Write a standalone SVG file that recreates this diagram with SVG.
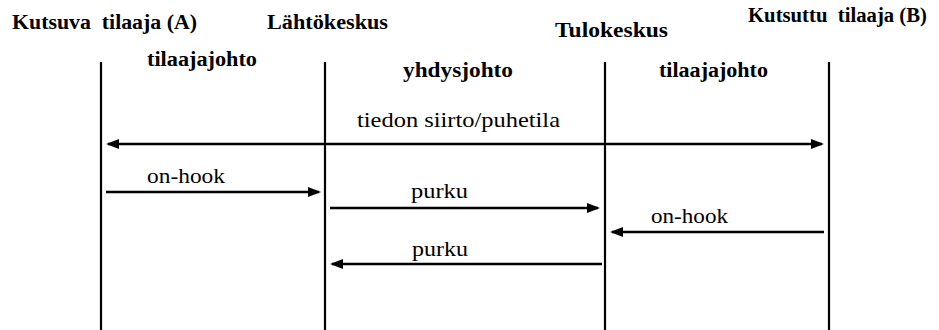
<svg xmlns="http://www.w3.org/2000/svg" width="939" height="330" viewBox="0 0 939 330">
<style>
.b{font-weight:bold;font-size:20px;fill:#000}
.r{font-size:21px;fill:#000}
.v{stroke:#000;stroke-width:2.2;fill:none}
.a{stroke:#000;stroke-width:2.5;fill:none}
</style>
<defs>
<marker id="ah" markerUnits="userSpaceOnUse" markerWidth="14" markerHeight="12" viewBox="0 0 14 12" refX="11" refY="6" orient="auto-start-reverse">
<path d="M0,1 L13,6 L0,11 z" fill="#000"/>
</marker>
</defs>
<rect width="939" height="330" fill="#fff"/>
<g id="titles" font-family="Liberation Serif, DejaVu Serif, serif">
<text class="b" x="12" y="29" textLength="185" lengthAdjust="spacingAndGlyphs" xml:space="preserve">Kutsuva  tilaaja (A)</text>
<text class="b" x="267" y="29" textLength="121" lengthAdjust="spacingAndGlyphs">Lähtökeskus</text>
<text class="b" x="555" y="37" textLength="113" lengthAdjust="spacingAndGlyphs">Tulokeskus</text>
<text class="b" x="748" y="22" textLength="179" lengthAdjust="spacingAndGlyphs" xml:space="preserve">Kutsuttu  tilaaja (B)</text>
</g>
<g id="segments" font-family="Liberation Serif, DejaVu Serif, serif">
<text class="b" x="147" y="66" textLength="110" lengthAdjust="spacingAndGlyphs">tilaajajohto</text>
<text class="b" x="403" y="77" textLength="110" lengthAdjust="spacingAndGlyphs">yhdysjohto</text>
<text class="b" x="659" y="77" textLength="109" lengthAdjust="spacingAndGlyphs">tilaajajohto</text>
</g>
<g id="lifelines">
<line id="lineA" class="v" x1="101" y1="62" x2="101" y2="330"/>
<line id="lineL" class="v" x1="325" y1="62" x2="325" y2="330"/>
<line id="lineT" class="v" x1="605" y1="62" x2="605" y2="330"/>
<line id="lineB" class="v" x1="829" y1="62" x2="829" y2="330"/>
</g>
<g id="connectors">
<line class="a" x1="108" y1="144" x2="822" y2="144" marker-start="url(#ah)" marker-end="url(#ah)"/>
<line class="a" x1="106" y1="192" x2="319" y2="192" marker-end="url(#ah)"/>
<line class="a" x1="330" y1="208" x2="598" y2="208" marker-end="url(#ah)"/>
<line class="a" x1="824" y1="232" x2="612" y2="232" marker-end="url(#ah)"/>
<line class="a" x1="602" y1="264" x2="332" y2="264" marker-end="url(#ah)"/>
</g>
<g id="labels" font-family="Liberation Serif, DejaVu Serif, serif">
<text class="r" x="357" y="127" textLength="203" lengthAdjust="spacingAndGlyphs">tiedon siirto/puhetila</text>
<text class="r" x="147" y="183" textLength="78" lengthAdjust="spacingAndGlyphs">on-hook</text>
<text class="r" x="411" y="198" textLength="57" lengthAdjust="spacingAndGlyphs">purku</text>
<text class="r" x="651" y="223" textLength="77" lengthAdjust="spacingAndGlyphs">on-hook</text>
<text class="r" x="412" y="256" textLength="56" lengthAdjust="spacingAndGlyphs">purku</text>
</g>
</svg>
